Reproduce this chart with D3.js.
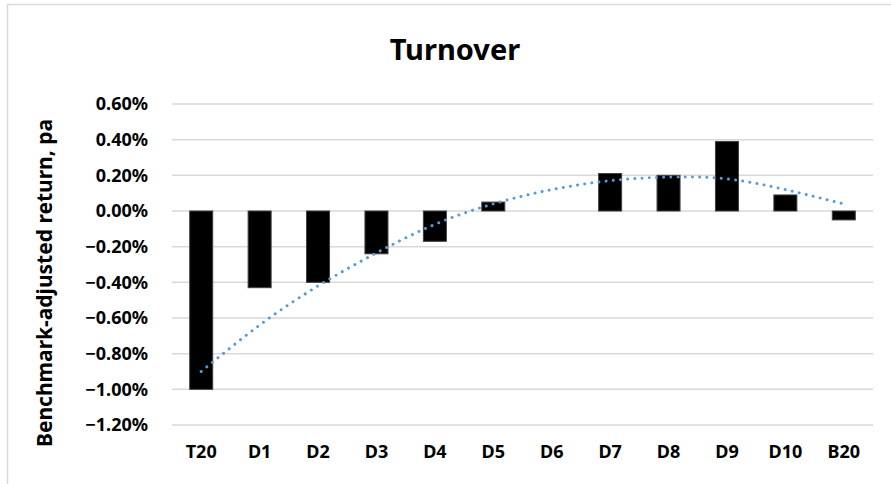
<!DOCTYPE html>
<html lang="en">
<meta charset="utf-8">

<head>
    <style>
        body {
            margin: 0;
            background: #fff;
            font-family: "Noto Sans", "Open Sans", sans-serif;
        }
    </style>
    <script src="https://d3js.org/d3.v7.min.js"></script>
</head>

<body>
</body>
<script>
    // chart data (percent, per annum)
    var categories = ["T20", "D1", "D2", "D3", "D4", "D5", "D6", "D7", "D8", "D9", "D10", "B20"];
    var returns = [-1.00, -0.43, -0.40, -0.24, -0.17, 0.05, 0.00, 0.21, 0.20, 0.39, 0.09, -0.05];
    // poly (order 2) trendline
    var trend = [-0.90, -0.64, -0.42, -0.235, -0.075, 0.04, 0.12, 0.17, 0.19, 0.18, 0.12, 0.04];
    var yTicks = [0.6, 0.4, 0.2, 0, -0.2, -0.4, -0.6, -0.8, -1.0, -1.2];

    var svgWidth = 891;
    var svgHeight = 484;

    var svg = d3.select("body")
        .append("svg")
        .attr("width", svgWidth)
        .attr("height", svgHeight);

    // chart frame
    svg.append("rect")
        .attr("x", 7.5)
        .attr("y", 4.5)
        .attr("width", 900)
        .attr("height", 500)
        .attr("fill", "#fff")
        .attr("stroke", "#d9d9d9")
        .attr("stroke-width", 1.5);

    var x = d3.scaleBand()
        .domain(categories)
        .range([172, 873])
        .paddingInner(0.606)
        .paddingOuter(0.303);

    var y = d3.scaleLinear()
        .domain([-1.2, 0.6])
        .range([425, 104]);

    // gridlines
    svg.append("g")
        .selectAll("line")
        .data(yTicks)
        .enter()
        .append("line")
        .attr("x1", 172)
        .attr("x2", 873)
        .attr("y1", function (d) { return y(d); })
        .attr("y2", function (d) { return y(d); })
        .attr("stroke", "#d9d9d9")
        .attr("stroke-width", 1.5);

    // y axis labels (no line, no ticks)
    var yAxis = d3.axisLeft(y)
        .tickValues(yTicks)
        .tickSize(0)
        .tickPadding(0)
        .tickFormat(function (d) { return d3.format(".2f")(d) + "%"; });

    var gy = svg.append("g")
        .attr("transform", "translate(148,0)")
        .call(yAxis);
    gy.select(".domain").remove();
    gy.selectAll("text")
        .attr("font-family", "'Noto Sans', sans-serif")
        .attr("font-size", 18)
        .attr("font-weight", "bold")
        .attr("fill", "#000");

    // x axis labels
    var xAxis = d3.axisBottom(x)
        .tickSize(0)
        .tickPadding(0);

    var gx = svg.append("g")
        .attr("transform", "translate(0,445)")
        .call(xAxis);
    gx.select(".domain").remove();
    gx.selectAll("text")
        .attr("font-family", "'Noto Sans', sans-serif")
        .attr("font-size", 18)
        .attr("font-weight", "bold")
        .attr("fill", "#000");

    // bars
    svg.append("g")
        .selectAll("rect")
        .data(returns)
        .enter()
        .filter(function (d) { return d !== 0; })
        .append("rect")
        .attr("x", function (d) { return x(categories[returns.indexOf(d)]); })
        .attr("y", function (d) { return y(Math.max(0, d)); })
        .attr("width", x.bandwidth())
        .attr("height", function (d) { return Math.abs(y(d) - y(0)); })
        .attr("fill", "#000")
        .attr("stroke", "#404040")
        .attr("stroke-width", 1);

    // dotted trendline
    var line = d3.line()
        .x(function (d, i) { return x(categories[i]) + x.bandwidth() / 2; })
        .y(function (d) { return y(d); })
        .curve(d3.curveNatural);

    svg.append("path")
        .datum(trend)
        .attr("d", line)
        .attr("fill", "none")
        .attr("stroke", "#5b9bd5")
        .attr("stroke-width", 3)
        .attr("stroke-linecap", "round")
        .attr("stroke-dasharray", "0.01 7.2");

    // title
    svg.append("text")
        .attr("x", 455)
        .attr("y", 60)
        .attr("text-anchor", "middle")
        .attr("font-size", 29)
        .attr("font-weight", "bold")
        .text("Turnover");

    // y axis title
    svg.append("text")
        .attr("transform", "translate(52,283) rotate(-90)")
        .attr("text-anchor", "middle")
        .attr("font-size", 21)
        .attr("font-weight", "bold")
        .text("Benchmark-adjusted return, pa");
</script>

</html>
